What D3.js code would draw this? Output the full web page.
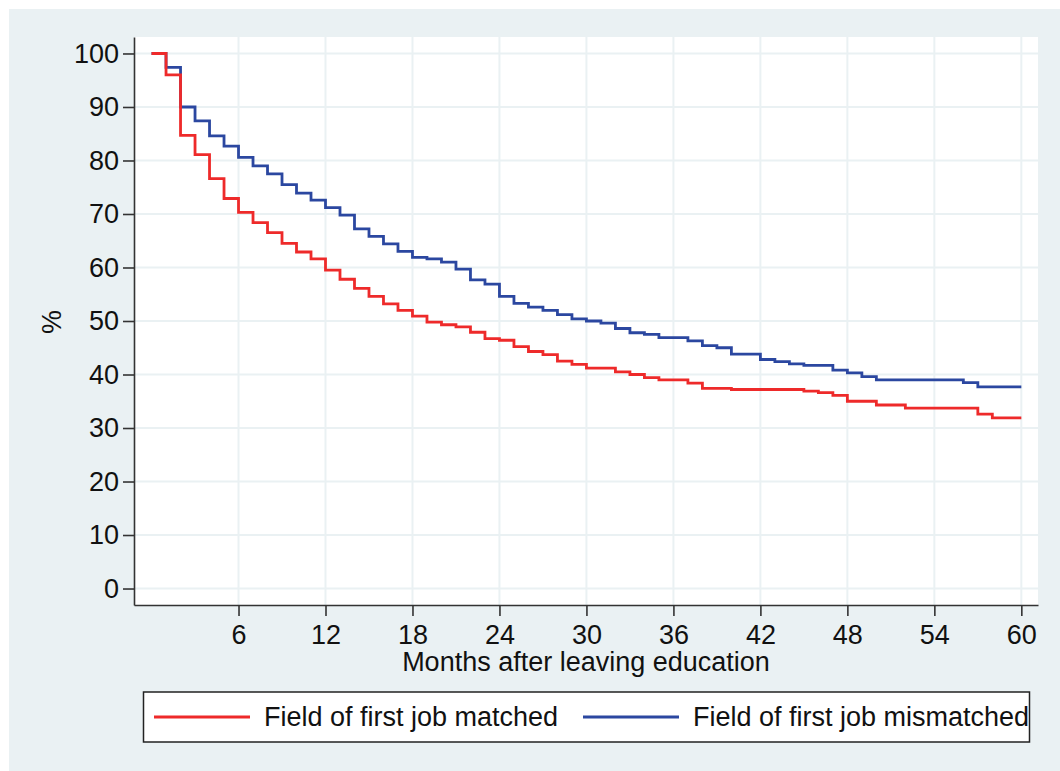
<!DOCTYPE html>
<html>
  <head>
    <meta charset='utf-8'>
    <title></title>
    <script src='https://d3js.org/d3.v7.min.js'></script>
    <style>
      body { margin: 0; background: #fff; }
      svg { display: block; }
      text { font-family: 'Liberation Sans', Arial, sans-serif; fill: #111; }
      .grid line { stroke: #eaf1f3; stroke-width: 2px; }
      .axis path, .axis line { stroke: #333; stroke-width: 1.6px; }
      .line { fill: none; stroke-width: 2.8px; }
    </style>
  </head>
  <body>
  <script type='text/javascript'>

    // months after leaving education (0..60)
    var months = d3.range(0, 61);

    // % still in first job (step after each month)
    var matched = [100, 96.0, 84.7, 81.1, 76.6, 72.9, 70.3, 68.4, 66.5, 64.5,
                   62.9, 61.6, 59.5, 57.8, 56.1, 54.6, 53.2, 52.0, 50.9, 49.8,
                   49.3, 48.9, 47.9, 46.7, 46.4, 45.2, 44.3, 43.7, 42.5, 41.9,
                   41.2, 41.2, 40.5, 40.0, 39.4, 39.0, 39.0, 38.4, 37.4, 37.4,
                   37.2, 37.2, 37.2, 37.2, 37.2, 36.9, 36.6, 36.1, 35.0, 35.0,
                   34.3, 34.3, 33.7, 33.7, 33.7, 33.7, 33.7, 32.6, 31.9, 31.9,
                   31.9];
    var mismatched = [100, 97.4, 90.0, 87.4, 84.6, 82.7, 80.6, 79.0, 77.5, 75.5,
                      73.9, 72.6, 71.2, 69.8, 67.2, 65.8, 64.4, 63.0, 61.9, 61.6,
                      61.0, 59.7, 57.7, 56.9, 54.6, 53.3, 52.6, 52.0, 51.2, 50.4,
                      50.0, 49.6, 48.6, 47.8, 47.5, 46.9, 46.9, 46.3, 45.4, 45.0,
                      43.8, 43.8, 42.8, 42.4, 42.0, 41.7, 41.7, 40.8, 40.3, 39.6,
                      39.0, 39.0, 39.0, 39.0, 39.0, 39.0, 38.5, 37.7, 37.7, 37.7,
                      37.7];

    var seriesNames = ['Field of first job matched', 'Field of first job mismatched'];
    var seriesColors = ['#ee2a2a', '#2b47a0'];

    var xTicks = [6, 12, 18, 24, 30, 36, 42, 48, 54, 60];
    var yTicks = [0, 10, 20, 30, 40, 50, 60, 70, 80, 90, 100];

    var width = 1060;
    var height = 771;
    var plot = {left: 134, right: 1038, top: 37, bottom: 605};

    var x = d3.scaleLinear()
            .domain([-1.21, 61.15])
            .range([plot.left, plot.right]);
    var y = d3.scaleLinear()
            .domain([-3.08, 103.08])
            .range([plot.bottom, plot.top]);

    var svg = d3.select('body')
              .append('svg')
              .attr('width', width)
              .attr('height', height);

    // outer panel
    svg.append('rect')
      .attr('x', 9).attr('y', 9)
      .attr('width', width - 9).attr('height', height - 9)
      .attr('fill', '#eaf1f3');

    svg.append('rect')
      .attr('x', plot.left).attr('y', plot.top)
      .attr('width', plot.right - plot.left)
      .attr('height', plot.bottom - plot.top)
      .attr('fill', '#fff');

    // grid
    var grid = svg.append('g').attr('class', 'grid');
    grid.selectAll('.gy')
      .data(yTicks)
      .enter().append('line')
      .attr('x1', plot.left).attr('x2', plot.right)
      .attr('y1', function(d) { return y(d); })
      .attr('y2', function(d) { return y(d); });
    grid.selectAll('.gx')
      .data(xTicks)
      .enter().append('line')
      .attr('y1', plot.top).attr('y2', plot.bottom)
      .attr('x1', function(d) { return x(d); })
      .attr('x2', function(d) { return x(d); });

    // lines
    var line = d3.line()
              .curve(d3.curveStepAfter)
              .x(function(d) { return x(d[0]); })
              .y(function(d) { return y(d[1]); });

    var series = [matched, mismatched].map(function(vals, i) {
      return {
        name: seriesNames[i],
        color: seriesColors[i],
        points: months.map(function(m, j) { return [m, vals[j]]; })
      };
    });

    svg.selectAll('.line')
      .data(series.slice().reverse())
      .enter().append('path')
      .attr('class', 'line')
      .attr('stroke', function(d) { return d.color; })
      .attr('d', function(d) { return line(d.points); });

    // axes
    var yAxis = svg.append('g')
      .attr('class', 'axis')
      .attr('transform', 'translate(' + plot.left + ',0)')
      .call(d3.axisLeft(y).tickValues(yTicks).tickSize(11).tickPadding(4).tickSizeOuter(0));
    yAxis.selectAll('text')
      .style('font-size', '27px');

    var xAxis = svg.append('g')
      .attr('class', 'axis')
      .attr('transform', 'translate(0,' + plot.bottom + ')')
      .call(d3.axisBottom(x).tickValues(xTicks).tickSize(11).tickPadding(9).tickSizeOuter(0));
    xAxis.selectAll('text')
      .style('font-size', '27px');

    svg.append('text')
      .attr('x', (plot.left + plot.right) / 2)
      .attr('y', 671)
      .attr('text-anchor', 'middle')
      .style('font-size', '27px')
      .text('Months after leaving education');

    svg.append('text')
      .attr('transform', 'translate(61,322) rotate(-90)')
      .attr('text-anchor', 'middle')
      .style('font-size', '27px')
      .text('%');

    // legend
    svg.append('rect')
      .attr('x', 143.5).attr('y', 692)
      .attr('width', 886).attr('height', 50)
      .attr('fill', '#fff')
      .attr('stroke', '#222')
      .attr('stroke-width', 1.5);

    var legendX = [154, 583];
    var leg = svg.selectAll('.legend')
      .data(series)
      .enter().append('g')
      .attr('class', 'legend')
      .attr('transform', function(d, i) { return 'translate(' + legendX[i] + ',717)'; });
    leg.append('line')
      .attr('x1', 0).attr('x2', 96)
      .attr('stroke', function(d) { return d.color; })
      .attr('stroke-width', 3);
    leg.append('text')
      .attr('x', 110)
      .attr('dy', '0.35em')
      .style('font-size', '27px')
      .text(function(d) { return d.name; });

  </script>
  </body>
</html>
